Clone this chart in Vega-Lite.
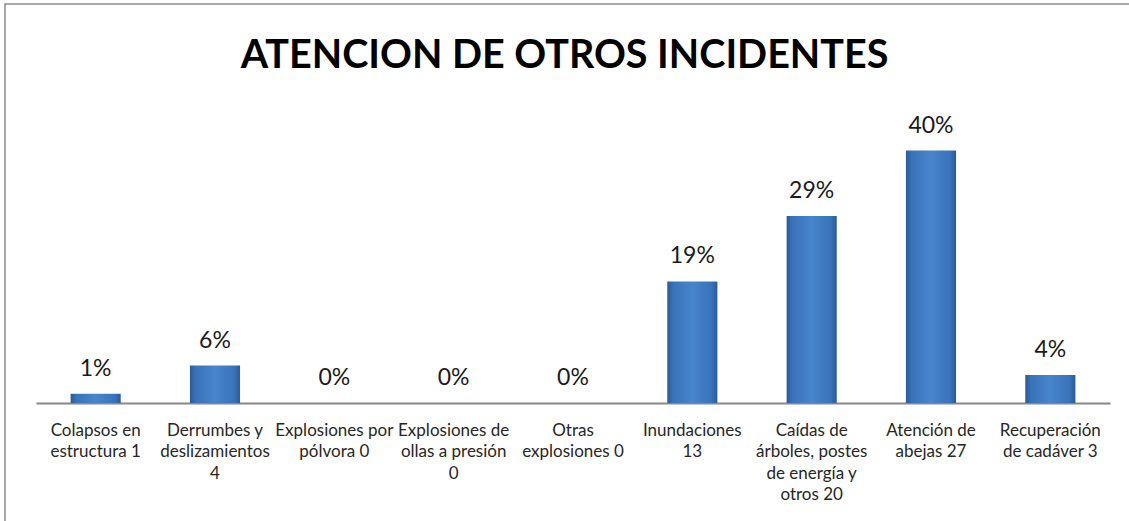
{
  "$schema": "https://vega.github.io/schema/vega-lite/v6.json",
  "width": 1127,
  "height": 520,
  "autosize": {"type": "none"},
  "padding": {"left": 5, "top": 4, "right": -3, "bottom": -3},
  "background": "white",
  "config": {
    "view": {"stroke": "#8a8a8a", "strokeWidth": 1.5},
    "font": "Lato"
  },
  "title": {
    "text": "ATENCION DE OTROS INCIDENTES",
    "font": "Lato",
    "fontSize": 39.5,
    "fontWeight": "bold",
    "color": "#000000",
    "anchor": "middle",
    "frame": "group",
    "offset": -72,
    "dx": -4
  },
  "data": {
    "values": [
      {"cat": "Colapsos en|estructura 1", "n": 1, "pct": "1%"},
      {"cat": "Derrumbes y|deslizamientos|4", "n": 4, "pct": "6%"},
      {"cat": "Explosiones por|pólvora 0", "n": 0, "pct": "0%"},
      {"cat": "Explosiones de|ollas a presión|0", "n": 0, "pct": "0%"},
      {"cat": "Otras|explosiones 0", "n": 0, "pct": "0%"},
      {"cat": "Inundaciones|13", "n": 13, "pct": "19%"},
      {"cat": "Caídas de|árboles, postes|de energía y|otros 20", "n": 20, "pct": "29%"},
      {"cat": "Atención de|abejas 27", "n": 27, "pct": "40%"},
      {"cat": "Recuperación|de cadáver 3", "n": 3, "pct": "4%"}
    ]
  },
  "encoding": {
    "x": {
      "field": "cat",
      "type": "nominal",
      "sort": null,
      "scale": {"range": [31, 1105], "paddingInner": 0.58, "paddingOuter": 0.29},
      "axis": {
        "title": null,
        "labelAngle": 0,
        "labelExpr": "split(datum.label, '|')",
        "labelFont": "Lato",
        "labelFontSize": 17,
        "labelColor": "#262626",
        "labelLineHeight": 21.5,
        "labelPadding": 19,
        "labelLimit": 300,
        "ticks": false,
        "domainColor": "#888888",
        "domainWidth": 2,
        "offset": -121,
        "grid": false
      }
    },
    "y": {
      "field": "n",
      "type": "quantitative",
      "scale": {"domain": [-12.94, 42.67], "nice": false, "zero": false},
      "axis": null
    }
  },
  "layer": [
    {
      "mark": {
        "type": "bar",
        "strokeWidth": 0,
        "color": {
          "gradient": "linear",
          "x1": 0, "y1": 0, "x2": 1, "y2": 0,
          "stops": [
            {"offset": 0, "color": "#2b5a96"},
            {"offset": 0.12, "color": "#3a73b9"},
            {"offset": 0.5, "color": "#4785cd"},
            {"offset": 0.88, "color": "#3a73b9"},
            {"offset": 1, "color": "#2b5a96"}
          ]
        }
      },
      "encoding": {"y2": {"datum": 0}}
    },
    {
      "mark": {"type": "text", "baseline": "alphabetic", "dy": -18, "fontSize": 23, "font": "Lato", "color": "#1a1a1a"},
      "encoding": {"text": {"field": "pct"}}
    }
  ]
}
